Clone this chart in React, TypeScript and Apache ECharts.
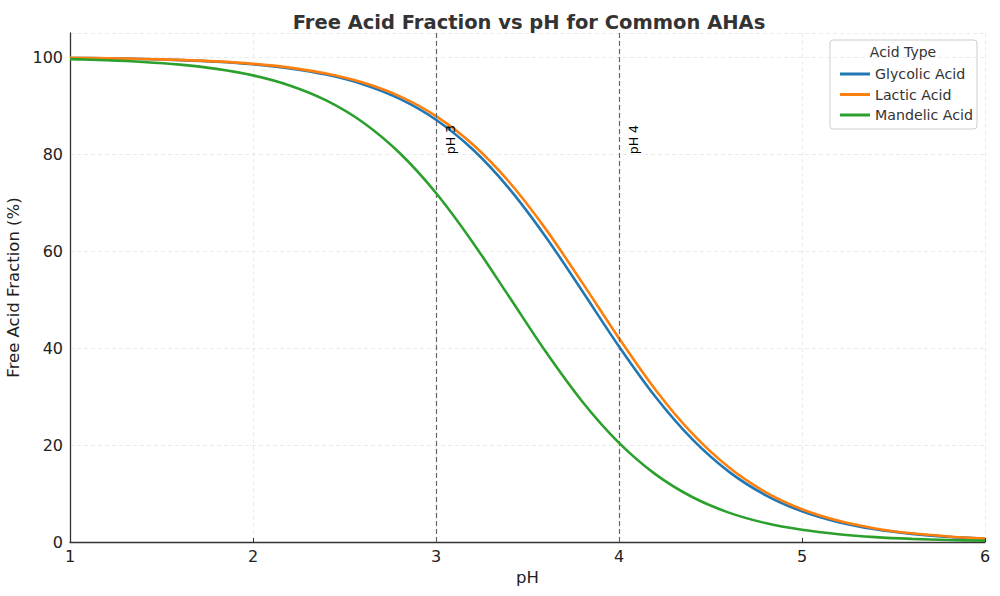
import React, { useEffect, useRef } from "react";
import * as echarts from "echarts";

const pH = [1.0, 1.2, 1.4, 1.6, 1.8, 2.0, 2.2, 2.4, 2.6, 2.8, 3.0, 3.2, 3.4, 3.6, 3.8, 4.0, 4.2, 4.4, 4.6, 4.8, 5.0, 5.2, 5.4, 5.6, 5.8, 6.0];
const glycolic = [99.85, 99.77, 99.63, 99.41, 99.08, 98.54, 97.71, 96.42, 94.44, 91.46, 87.11, 81.01, 72.91, 62.94, 51.72, 40.34, 29.91, 21.21, 14.52, 9.68, 6.33, 4.09, 2.62, 1.67, 1.06, 0.67];
const lactic = [99.86, 99.78, 99.65, 99.45, 99.14, 98.64, 97.86, 96.65, 94.79, 91.99, 87.87, 82.05, 74.26, 64.54, 53.45, 42.02, 31.37, 22.39, 15.4, 10.3, 6.76, 4.37, 2.8, 1.79, 1.14, 0.72];
const mandelic = [99.61, 99.39, 99.03, 98.47, 97.6, 96.26, 94.19, 91.1, 86.59, 80.29, 72.0, 61.86, 50.58, 39.23, 28.94, 20.45, 13.95, 9.28, 6.06, 3.91, 2.51, 1.6, 1.01, 0.64, 0.41, 0.26];
const seriesNames = ["Glycolic Acid", "Lactic Acid", "Mandelic Acid"];
const seriesColors = ["#1f77b4", "#ff7f0e", "#2ca02c"];
const refLines = [3, 4];
const refLabels = ["pH 3", "pH 4"];
const refLabelX = [3.05, 4.05];
const refLabelY = [80, 80];

const FONT = "DejaVu Sans";

export default function App() {
  const ref = useRef<HTMLDivElement>(null);
  useEffect(() => {
    if (!ref.current) return;
    const chart = echarts.init(ref.current, null, { renderer: "svg" });
    const values = [glycolic, lactic, mandelic];
    const lineSeries = seriesNames.map((name, i) => ({
      name,
      type: "line",
      data: pH.map((x, j) => [x, values[i][j]]),
      smooth: 0.3,
      symbol: "none",
      lineStyle: { color: seriesColors[i], width: 2.6 },
      itemStyle: { color: seriesColors[i] },
      z: 3 + i,
      ...(i === 0
        ? {
            markLine: {
              silent: true,
              symbol: "none",
              label: { show: false },
              lineStyle: { color: "#666", type: [5, 3], width: 1.2 },
              data: refLines.map((v) => ({ xAxis: v })),
            },
          }
        : {}),
    }));
    const labelSeries = {
      name: "refLabels",
      type: "custom",
      silent: true,
      data: refLabels.map((t, i) => [refLabelX[i], refLabelY[i], t]),
      renderItem: (params: any, api: any) => {
        const p = api.coord([api.value(0), api.value(1)]);
        return {
          type: "text",
          x: p[0] - 1,
          y: p[1],
          rotation: Math.PI / 2,
          style: {
            text: refLabels[params.dataIndex],
            fontFamily: FONT,
            fontSize: 12.5,
            fill: "#000",
            align: "left",
            verticalAlign: "top",
          },
        };
      },
      z: 10,
    };
    chart.setOption({
      animation: false,
      backgroundColor: "#fff",
      textStyle: { fontFamily: FONT },
      title: {
        text: "Free Acid Fraction vs pH for Common AHAs",
        left: 524,
        textAlign: "center",
        top: 7,
        textStyle: { fontFamily: FONT, fontSize: 19.5, fontWeight: "bold", color: "#333" },
      },
      grid: { left: 70, right: 15, top: 33, bottom: 54, outerBoundsMode: "none", containLabel: false },
      xAxis: {
        type: "value",
        min: 1,
        max: 6,
        interval: 1,
        name: "pH",
        nameLocation: "middle",
        nameGap: 26,
        nameTextStyle: { fontFamily: FONT, fontSize: 16.5, color: "#222" },
        axisLine: { lineStyle: { color: "#333", width: 1.3 } },
        axisTick: { show: true, inside: true, length: 4, lineStyle: { color: "#333" } },
        axisLabel: { fontFamily: FONT, fontSize: 16, color: "#222", margin: 6 },
        splitLine: { show: true, lineStyle: { color: "#e6e6e6", type: [4, 3], width: 0.8 } },
      },
      yAxis: {
        type: "value",
        min: 0,
        max: 105,
        interval: 20,
        name: "Free Acid Fraction (%)",
        nameLocation: "middle",
        nameGap: 43,
        nameTextStyle: { fontFamily: FONT, fontSize: 16.5, color: "#222" },
        axisLine: { show: true, lineStyle: { color: "#333", width: 1.3 } },
        axisTick: { show: false },
        axisLabel: { fontFamily: FONT, fontSize: 16, color: "#222", margin: 7, showMaxLabel: false },
        splitLine: { show: true, lineStyle: { color: "#e6e6e6", type: [4, 3], width: 0.8 } },
      },
      legend: {
        data: seriesNames,
        orient: "vertical",
        left: 835,
        top: 62,
        icon: "rect",
        itemWidth: 30,
        itemHeight: 3,
        itemGap: 6.5,
        textStyle: { fontFamily: FONT, fontSize: 14.2, color: "#333", padding: [0, 0, 0, 0] },
      },
      graphic: [
        {
          type: "rect",
          shape: { x: 830, y: 40, width: 147, height: 89, r: 3 },
          style: { fill: "#fff", stroke: "#cccccc", lineWidth: 1 },
          z: 0,
        },
        {
          type: "text",
          x: 903,
          y: 52,
          style: {
            text: "Acid Type",
            fontFamily: FONT,
            fontSize: 14,
            fill: "#333",
            align: "center",
            verticalAlign: "middle",
          },
          z: 1,
        },
      ],
      series: [...lineSeries, labelSeries],
    });
    return () => chart.dispose();
  }, []);
  return <div ref={ref} style={{ position: "fixed", left: 0, top: 0, width: 1000, height: 596 }} />;
}
